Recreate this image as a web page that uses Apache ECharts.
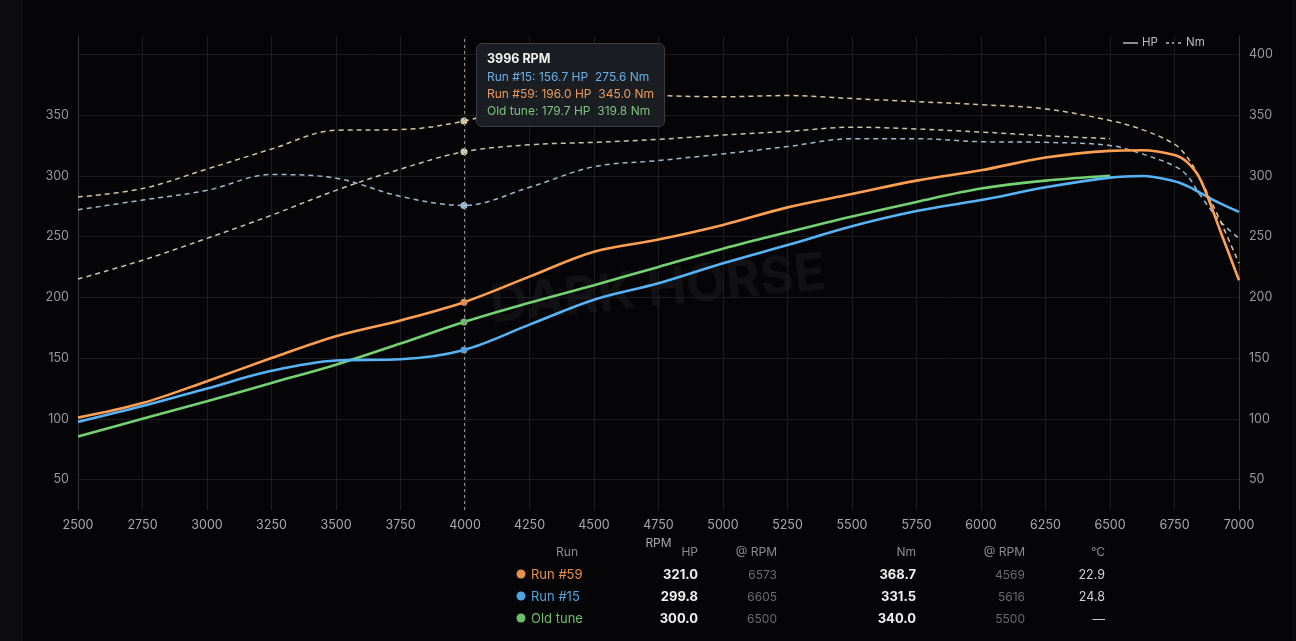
<!DOCTYPE html>
<html>
<head>
<meta charset="utf-8">
<script src="https://cdn.jsdelivr.net/npm/echarts@6/dist/echarts.min.js"></script>
<style>
  html, body { margin:0; padding:0; background:#0c0b0d; width:1296px; height:641px; overflow:hidden; font-family: Inter, "Noto Sans", sans-serif; }
  #panel { position:absolute; left:23px; top:0; width:1269px; height:641px; background:#050406; }
  #chart { position:absolute; left:0; top:0; width:1296px; height:641px; }
  .cell { position:absolute; white-space:nowrap; transform:translateY(-50%); font-size:12.5px; }
  .r { text-align:right; }
  .hdr { color:#8c8c8c; font-size:12px; }
  .dot { position:absolute; width:9px; height:9px; border-radius:50%; transform:translate(-50%,-50%); }
</style>
</head>
<body>
<div id="panel"></div>
<div id="chart"></div>
<div id="table"></div>
<script>
// ---------- data ----------
const rpm = [2500,2750,3000,3250,3500,3750,3996,4250,4500,4750,5000,5250,5500,5750,6000,6250,6500,6625,6750,6800,6850,6925,7000];

const run59Hp  = [101,113,131,150,168,181,196.0,217,237.5,247.5,259.5,274,285,296,304.5,315,320.5,321,317,311,297,256,214];
const run15Hp  = [97.5,110.5,125,139.5,148,149,156.7,177.5,198,211.5,228,243,258.5,271,280,290.5,298.5,299.8,295.5,291.5,286,277.5,270.3];
const oldHp    = [85.5,100,114.5,129.5,144.5,162,179.7,195.5,210,225,240,253.5,266.5,278.5,289.5,296,300,null,null,null,null,null,null];

const run59Nm  = [282.5,289.5,305.5,322,337.5,338,345.0,360,368,366,365,366,363.5,361,358.5,355,345.5,338,326,315,297.5,264,228];
const run15Nm  = [272,280,288,301,298,283,275.6,290.5,307.5,312.5,318,324,330.5,330.5,328,327.5,325,318,308,300,284,263,248.5];
const oldNm    = [215,230.5,248.5,267.5,288,305.5,319.8,325.5,327.5,330,333.5,336.5,340,338.5,336,333,330.5,null,null,null,null,null,null];

const xTicks = [2500,2750,3000,3250,3500,3750,4000,4250,4500,4750,5000,5250,5500,5750,6000,6250,6500,6750,7000];
const yTicks = [50,100,150,200,250,300,350,400];

// summary table
const tableHeaders = ["Run","HP","@ RPM","Nm","@ RPM","°C"];
const tableRuns   = ["Run #59","Run #15","Old tune"];
const tablePeakHp = ["321.0","299.8","300.0"];
const tableHpRpm  = ["6573","6605","6500"];
const tablePeakNm = ["368.7","331.5","340.0"];
const tableNmRpm  = ["4569","5616","5500"];
const tableTemp   = ["22.9","24.8","—"];

const hoverIndex = 6; // 3996 RPM

// ---------- styles ----------
const C = {
  run59: '#e8914a', run15: '#4fa3e0', old: '#6abf69',
  run59Nm: '#d8c79c', run15Nm: '#9dbcd2', oldNm: '#c6cca9',
  tip59: '#e99a5e', tip15: '#6aaee6', tipOld: '#7ec27f'
};
const runColors = [C.run59, C.run15, C.old];

function pairs(arr){ return rpm.map((r,i)=>[r, arr[i]]).filter(d=>d[1]!=null); }

function hpSeries(name, id, arr, color){
  return { type:'line', name, id, yAxisIndex:0, data:pairs(arr), smooth:0.35,
    showSymbol:false, symbol:'circle', symbolSize:7,
    lineStyle:{ color, width:2.6 }, itemStyle:{ color, borderWidth:0 },
    emphasis:{ scale:false, lineStyle:{ width:2.6 } } };
}
function nmSeries(name, id, arr, color){
  return { type:'line', name, id, yAxisIndex:1, data:pairs(arr), smooth:0.35,
    showSymbol:false, symbol:'circle', symbolSize:7,
    lineStyle:{ color, width:1.5, type:[5,4], opacity:0.9 }, itemStyle:{ color, borderWidth:0 },
    emphasis:{ scale:false, lineStyle:{ width:1.5 } } };
}

const chart = echarts.init(document.getElementById('chart'), null, { renderer:'canvas' });

const yAxisBase = {
  type:'value', min:25, max:415, interval:25,
  axisLine:{ show:true, lineStyle:{ color:'#363636' } },
  axisTick:{ show:false },
  splitLine:{ show:true, lineStyle:{ color:['rgba(0,0,0,0)','#1d1d1d'], width:1 } },
};

const option = {
  backgroundColor:'transparent',
  animation:false,
  textStyle:{ fontFamily:'Inter, "Noto Sans", sans-serif' },
  grid:{ left:78, right:57, top:36, bottom:131, containLabel:false },
  xAxis:{
    type:'value', min:2500, max:7000, interval:250,
    name:'RPM', nameLocation:'middle', nameGap:27,
    nameTextStyle:{ color:'#a8a8a8', fontSize:12 },
    axisLine:{ show:false }, axisTick:{ show:false },
    axisLabel:{ color:'#a8a8a8', fontSize:12.5, margin:9,
      formatter: v => xTicks.includes(v) ? String(v) : '' },
    splitLine:{ show:true, lineStyle:{ color:'#1d1d1d', width:1 } }
  },
  yAxis:[
    Object.assign({}, yAxisBase, { position:'left',
      axisLabel:{ color:'#9a9a9a', fontSize:12.5, margin:9,
        formatter: v => (yTicks.includes(v) && v <= 350) ? String(v) : '' } }),
    Object.assign({}, yAxisBase, { position:'right',
      splitLine:{ show:false },
      axisLabel:{ color:'#9a9a9a', fontSize:12.5, margin:10,
        formatter: v => yTicks.includes(v) ? String(v) : '' } })
  ],
  tooltip:{
    trigger:'axis', alwaysShowContent:true, transitionDuration:0,
    backgroundColor:'rgba(27,30,35,0.96)', borderColor:'#3a3d43', borderWidth:1,
    padding:[6,10,7,10],
    extraCssText:'border-radius:6px; box-shadow:none;',
    textStyle:{ color:'#eee', fontSize:12 },
    axisPointer:{ type:'line', lineStyle:{ color:'#8a8a8a', width:1, type:[3,3] }, label:{ show:false } },
    position: function(point){ return [point[0] + 12, 43]; },
    formatter: function(params){
      const byId = {};
      params.forEach(p => { byId[p.seriesId] = p.value[1]; });
      const x = params[0].value[0];
      const f = v => (v==null ? '—' : v.toFixed(1));
      const line = (label, hp, nm, col) =>
        '<div style="color:'+col+';font-size:12px;line-height:17px">'+label+': '+f(hp)+' HP&nbsp;&nbsp;'+f(nm)+' Nm</div>';
      return '<div style="font-family:Inter,sans-serif">' +
        '<div style="color:#f2f2f2;font-weight:700;font-size:12.5px;line-height:18px">'+x+' RPM</div>' +
        line('Run #15', byId.run15hp, byId.run15nm, C.tip15) +
        line('Run #59', byId.run59hp, byId.run59nm, C.tip59) +
        line('Old tune', byId.oldhp, byId.oldnm, C.tipOld) +
        '</div>';
    }
  },
  graphic:[
    { type:'text', x:658, y:290, rotation:0.1, silent:true, z:0,
      style:{ text:'DARK HORSE', fill:'rgba(255,255,255,0.05)', font:'bold 52px Inter, sans-serif', align:'center', verticalAlign:'middle' } },
    { type:'line', shape:{ x1:1123, y1:43, x2:1138, y2:43 }, style:{ stroke:'#bdbdbd', lineWidth:1.5 }, silent:true },
    { type:'text', x:1142, y:43, style:{ text:'HP', fill:'#bdbdbd', font:'11.5px Inter, sans-serif', verticalAlign:'middle' }, silent:true },
    { type:'line', shape:{ x1:1166, y1:43, x2:1181, y2:43 }, style:{ stroke:'#bdbdbd', lineWidth:1.5, lineDash:[3,3] }, silent:true },
    { type:'text', x:1186, y:43, style:{ text:'Nm', fill:'#bdbdbd', font:'11.5px Inter, sans-serif', verticalAlign:'middle' }, silent:true }
  ],
  series:[
    nmSeries('Run #15 Nm','run15nm', run15Nm, C.run15Nm),
    nmSeries('Old tune Nm','oldnm', oldNm, C.oldNm),
    nmSeries('Run #59 Nm','run59nm', run59Nm, C.run59Nm),
    hpSeries('Old tune HP','oldhp', oldHp, C.old),
    hpSeries('Run #15 HP','run15hp', run15Hp, C.run15),
    hpSeries('Run #59 HP','run59hp', run59Hp, C.run59)
  ]
};

chart.setOption(option);
chart.dispatchAction({ type:'showTip', seriesIndex:5, dataIndex:hoverIndex });

// ---------- summary table ----------
(function(){
  const t = document.getElementById('table');
  const colRight = [578, 698, 777, 916, 1025, 1105];
  const headerY = 551, rowY = [574, 596, 618];
  function cell(text, right, y, cls, style){
    const d = document.createElement('div');
    d.className = 'cell r ' + (cls||'');
    d.textContent = text;
    d.style.right = (1296 - right) + 'px';
    d.style.top = y + 'px';
    if (style) Object.assign(d.style, style);
    t.appendChild(d);
  }
  tableHeaders.forEach((h,i)=> cell(h, colRight[i], headerY, 'hdr'));
  tableRuns.forEach((name,i)=>{
    const y = rowY[i];
    const dot = document.createElement('div');
    dot.className = 'dot'; dot.style.left = '521px'; dot.style.top = y + 'px';
    dot.style.background = runColors[i]; t.appendChild(dot);
    const n = document.createElement('div');
    n.className = 'cell'; n.textContent = name; n.style.left = '531px'; n.style.top = y + 'px';
    n.style.color = runColors[i]; n.style.fontSize = '13px'; t.appendChild(n);
    cell(tablePeakHp[i], colRight[1], y, '', { color:'#f0f0f0', fontWeight:'700', fontSize:'13px' });
    cell(tableHpRpm[i], colRight[2], y, '', { color:'#6c6c6c', fontSize:'12px' });
    cell(tablePeakNm[i], colRight[3], y, '', { color:'#f0f0f0', fontWeight:'700', fontSize:'13px' });
    cell(tableNmRpm[i], colRight[4], y, '', { color:'#6c6c6c', fontSize:'12px' });
    cell(tableTemp[i], colRight[5], y, '', { color:'#d0d0d0', fontSize:'12.5px' });
  });
})();
</script>
</body>
</html>
